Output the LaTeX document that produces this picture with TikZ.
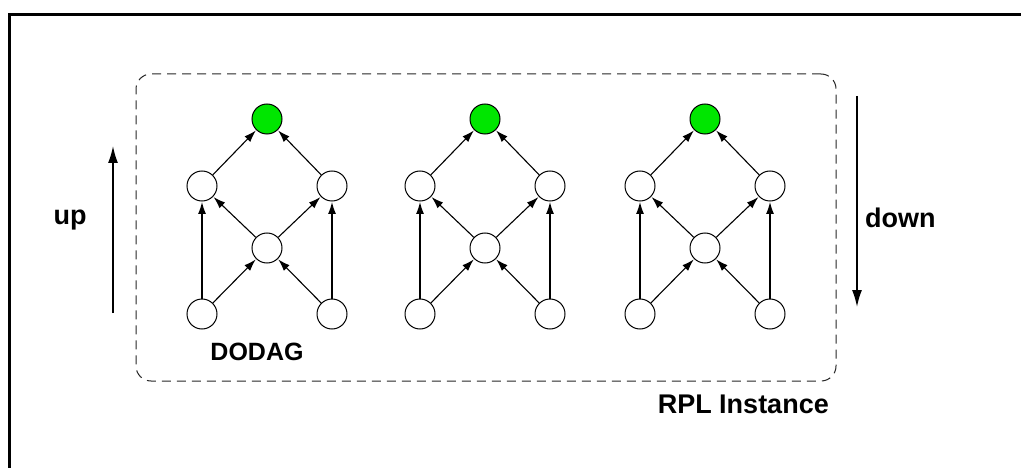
\documentclass[tikz,border=0pt]{standalone}
\usepackage{fontspec}
\setmainfont{Liberation Sans}
\usetikzlibrary{arrows.meta}
\definecolor{rootgreen}{RGB}{0,230,0}
\tikzset{
  vtx/.style={circle,draw,line width=1pt,minimum size=30pt,inner sep=0pt,fill=white},
  root/.style={vtx,fill=rootgreen},
  edge/.style={line width=1.1pt,-{Latex[length=12pt,width=8pt]},shorten >=0.5pt},
  dirarrow/.style={line width=1.6pt,-{Latex[length=17pt,width=10pt]}},
  lbl/.style={font=\bfseries\fontsize{27}{30}\selectfont,inner sep=0pt},
  frameline/.style={line width=3pt},
  instbox/.style={line width=1pt,rounded corners=15pt,dash pattern=on 9pt off 6pt,draw=black!85}
}
\begin{document}
\begin{tikzpicture}[x=1pt,y=-1pt]
\useasboundingbox (0,0) rectangle (1021,468);
\draw[frameline] (9.5,468) -- (9.5,15) -- (1021,15);
\node[minimum width=700pt,minimum height=307pt,instbox,draw] (box) at (486,227.5) {};
\foreach \i/\dx in {1/0,2/218,3/438}{
  \node[root] (t\i) at (267+\dx,119) {};
  \node[vtx] (l\i) at (202+\dx,186) {};
  \node[vtx] (r\i) at (332+\dx,186) {};
  \node[vtx] (c\i) at (267+\dx,248) {};
  \node[vtx] (bl\i) at (202+\dx,314) {};
  \node[vtx] (br\i) at (332+\dx,314) {};
  \draw[edge] (l\i) -- (t\i);
  \draw[edge] (r\i) -- (t\i);
  \draw[edge] (c\i) -- (l\i);
  \draw[edge] (c\i) -- (r\i);
  \draw[edge] (bl\i) -- (c\i);
  \draw[edge] (br\i) -- (c\i);
  \draw[edge] (bl\i) -- (l\i);
  \draw[edge] (br\i) -- (r\i);
}
\coordinate (ua) at (113,313);
\coordinate (ub) at (113,146);
\draw[dirarrow] (ua) -- (ub);
\coordinate (da) at (857,96);
\coordinate (db) at (857,307);
\draw[dirarrow] (da) -- (db);
\node[lbl] (up) at (70,220) {up};
\node[lbl,anchor=west] (down) at (865,218) {down};
\node[lbl,font=\bfseries\fontsize{25}{28}\selectfont] (dodag) at (257,352) {DODAG};
\node[lbl,anchor=east] (rpl) at (829,404) {RPL Instance};
\end{tikzpicture}
\end{document}
